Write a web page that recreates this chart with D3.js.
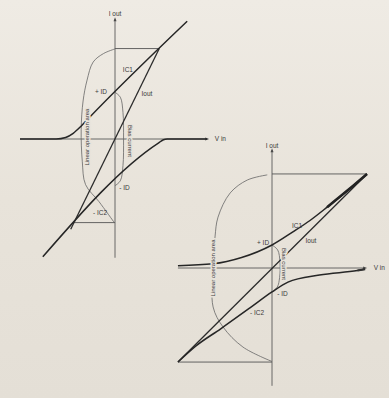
<!DOCTYPE html>
<html>
<head>
<meta charset="utf-8">
<script src="https://cdn.jsdelivr.net/npm/d3@7"></script>
<style>
  html, body { margin: 0; padding: 0; background: #e8e3da; }
  svg { display: block; }
  .lbl { font-family: "Liberation Sans", Arial, sans-serif; font-size: 6.5px; fill: #3a3a3a; }
  .halo { paint-order: stroke; stroke: #e8e3da; stroke-width: 3px; stroke-linejoin: round; }
</style>
</head>
<body>
<div id="chart"></div>
<script>
// ---- left panel (linear class A/B, straight characteristics) ----
var leftAxisV = [[0, 6.3], [0, -6.25]];
var leftAxisH = [[-5, 0], [4.85, 0]];
var leftIc1 = [[-5, 0], [-3.1, 0], [-2.6, 0.08], [-2.2, 0.3], [-1.8, 0.66], [-1.4, 1.08], [3.8, 6.2]];
var leftIc2 = [[-3.8, -6.2], [2.3, -0.2], [2.55, -0.04], [2.75, 0], [4.85, 0]];
var leftIout = [[-2.33, -4.75], [2.33, 4.76]];
var leftTopGuide = [[0, 4.76], [2.33, 4.76]];
var leftBottomGuide = [[-2.16, -4.4], [0, -4.4]];
var leftArc = [[0, 4.74], [-0.6, 4.5], [-1.15, 4.05], [-1.47, 3.1], [-1.68, 2.0], [-1.78, 0.5],
               [-1.72, -1.2], [-1.55, -2.4], [-0.84, -3.3], [-0.05, -4.38]];
var leftBias = [[0, 2.46], [0.28, 2.2], [0.42, 1.4], [0.45, 0], [0.42, -1.4], [0.28, -2.2], [0, -2.46]];
var leftLabels = [
  { t: "I out", x: 0, y: 6.58 },
  { t: "IC1", x: 0.68, y: 3.63 },
  { t: "+ ID", x: -0.74, y: 2.47 },
  { t: "Iout", x: 1.68, y: 2.37 },
  { t: "- ID", x: 0.5, y: -2.58 },
  { t: "- IC2", x: -0.79, y: -3.89 },
  { t: "V in", x: 5.25, y: 0 }
];
var leftRotLabels = [
  { t: "Linear operation area", x: -1.47, y: 0.1, r: -90 },
  { t: "Bias current", x: 0.79, y: -0.1, r: 90 }
];

// ---- right panel (curved characteristics) ----
var rightAxisV = [[0, 6.2], [0, -6.2]];
var rightAxisH = [[-4.95, 0], [4.9, 0]];
var rightIc1 = [[-4.95, 0.12], [-3.1, 0.22], [-1.6, 0.55], [0, 1.21], [1.1, 1.9], [2.0, 2.5], [2.9, 3.2], [4.0, 4.1], [5, 4.95]];
var rightIc2 = [[-4.95, -4.95], [-4.0, -4.1], [-2.7, -3.2], [-1.16, -2.1], [0, -1.26], [0.84, -0.74], [2.5, -0.37], [4.5, -0.13], [4.9, -0.06]];
var rightIout = [[-4.95, -4.95], [5, 4.95]];
var rightTopGuide = [[0, 4.95], [5, 4.95]];
var rightBottomGuide = [[-4.95, -4.95], [0, -4.95]];
var rightArc = [[-0.25, 4.9], [-1.3, 4.63], [-2.2, 3.95], [-2.84, 2.68], [-3.0, 1.63], [-3.1, 0],
                [-3.1, -2.05], [-2.58, -3.1], [-1.53, -4.16], [0, -4.92]];
var rightBias = [[0, 1.21], [0.3, 0.95], [0.42, 0.3], [0.4, -0.5], [0.28, -1.0], [0, -1.26]];
var rightLabels = [
  { t: "I out", x: 0, y: 6.42 },
  { t: "IC1", x: 1.32, y: 2.21 },
  { t: "+ ID", x: -0.47, y: 1.32 },
  { t: "Iout", x: 2.05, y: 1.42 },
  { t: "- ID", x: 0.55, y: -1.37 },
  { t: "- IC2", x: -0.79, y: -2.37 },
  { t: "V in", x: 5.35, y: 0 }
];
var rightRotLabels = [
  { t: "Linear operation area", x: -3.1, y: 0, r: -90 },
  { t: "Bias current", x: 0.63, y: 0.21, r: 90 }
];

var chart = {
  width: 389,
  height: 398,
  init: function () {
    var svg = d3.select("#chart").append("svg")
      .attr("width", this.width)
      .attr("height", this.height);
    var defs = svg.append("defs");
    var grad = defs.append("linearGradient").attr("id", "paper")
      .attr("x1", 0).attr("y1", 0).attr("x2", 0).attr("y2", 1);
    grad.append("stop").attr("offset", 0).attr("stop-color", "#efebe4");
    grad.append("stop").attr("offset", 0.5).attr("stop-color", "#e8e3da");
    grad.append("stop").attr("offset", 1).attr("stop-color", "#e4dfd6");
    svg.append("rect").attr("width", this.width).attr("height", this.height).attr("fill", "url(#paper)");

    this.drawPanel(svg, {
      x: d3.scaleLinear().domain([-5, 5]).range([20, 210]),
      y: d3.scaleLinear().domain([-6.5, 6.5]).range([262.5, 15.5]),
      axisV: leftAxisV, axisH: leftAxisH,
      ic1: leftIc1, ic2: leftIc2, iout: leftIout,
      guides: [leftTopGuide, leftBottomGuide],
      arc: leftArc, bias: leftBias,
      labels: leftLabels, rot: leftRotLabels, thickEnd: false
    });
    this.drawPanel(svg, {
      x: d3.scaleLinear().domain([-5, 5]).range([177, 367]),
      y: d3.scaleLinear().domain([-6.3, 6.3]).range([387.7, 148.3]),
      axisV: rightAxisV, axisH: rightAxisH,
      ic1: rightIc1, ic2: rightIc2, iout: rightIout,
      guides: [rightTopGuide, rightBottomGuide],
      arc: rightArc, bias: rightBias,
      labels: rightLabels, rot: rightRotLabels, thickEnd: true
    });
  },
  drawPanel: function (svg, p) {
    var g = svg.append("g");
    var line = d3.line().x(function (d) { return p.x(d[0]); }).y(function (d) { return p.y(d[1]); });
    var curve = d3.line().curve(d3.curveMonotoneX).x(function (d) { return p.x(d[0]); }).y(function (d) { return p.y(d[1]); });
    var arc = d3.line().curve(d3.curveCatmullRom.alpha(0.5)).x(function (d) { return p.x(d[0]); }).y(function (d) { return p.y(d[1]); });

    // axes
    g.append("path").attr("d", line(p.axisV)).attr("fill", "none").attr("stroke", "#5a5a5a").attr("stroke-width", 0.9);
    g.append("path").attr("d", line(p.axisH)).attr("fill", "none").attr("stroke", "#5a5a5a").attr("stroke-width", 0.9);
    var top = p.axisV[0], right = p.axisH[1];
    g.append("path")
      .attr("d", "M" + p.x(top[0]) + "," + (p.y(top[1]) - 2) + "l-1.5,4h3z")
      .attr("fill", "#4a4a4a");
    g.append("path")
      .attr("d", "M" + (p.x(right[0]) + 2) + "," + p.y(right[1]) + "l-4,-1.5v3z")
      .attr("fill", "#4a4a4a");

    // guide lines + arcs
    p.guides.forEach(function (gd) {
      g.append("path").attr("d", line(gd)).attr("fill", "none").attr("stroke", "#555").attr("stroke-width", 0.9);
    });
    g.append("path").attr("d", arc(p.arc)).attr("fill", "none").attr("stroke", "#666").attr("stroke-width", 0.8);
    g.append("path").attr("d", arc(p.bias)).attr("fill", "none").attr("stroke", "#666").attr("stroke-width", 0.8);

    // characteristics
    g.append("path").attr("d", line(p.iout)).attr("fill", "none").attr("stroke", "#2c2c2c").attr("stroke-width", 1.3);
    g.append("path").attr("d", curve(p.ic1)).attr("fill", "none").attr("stroke", "#262626").attr("stroke-width", 1.5);
    g.append("path").attr("d", curve(p.ic2)).attr("fill", "none").attr("stroke", "#262626").attr("stroke-width", 1.5);
    if (p.thickEnd) {
      // the scan shows the overlapping traces as a heavier stroke near the corner
      g.append("path").attr("d", curve(p.ic1.slice(-3))).attr("fill", "none").attr("stroke", "#222").attr("stroke-width", 2.6);
      g.append("path").attr("d", curve(p.ic2.slice(-2))).attr("fill", "none").attr("stroke", "#333").attr("stroke-width", 2);
    }

    // labels
    g.selectAll("text.flat").data(p.labels).enter().append("text")
      .attr("class", "lbl")
      .attr("x", function (d) { return p.x(d.x); })
      .attr("y", function (d) { return p.y(d.y); })
      .attr("dy", "0.35em")
      .attr("text-anchor", function (d) { return d.t === "V in" ? "start" : "middle"; })
      .text(function (d) { return d.t; });
    g.selectAll("text.rot").data(p.rot).enter().append("text")
      .attr("class", "lbl halo")
      .attr("transform", function (d) { return "translate(" + p.x(d.x) + "," + p.y(d.y) + ") rotate(" + d.r + ")"; })
      .attr("dy", "0.35em")
      .attr("text-anchor", "middle")
      .style("font-size", "6px")
      .text(function (d) { return d.t; });
  }
};

chart.init();
</script>
</body>
</html>
